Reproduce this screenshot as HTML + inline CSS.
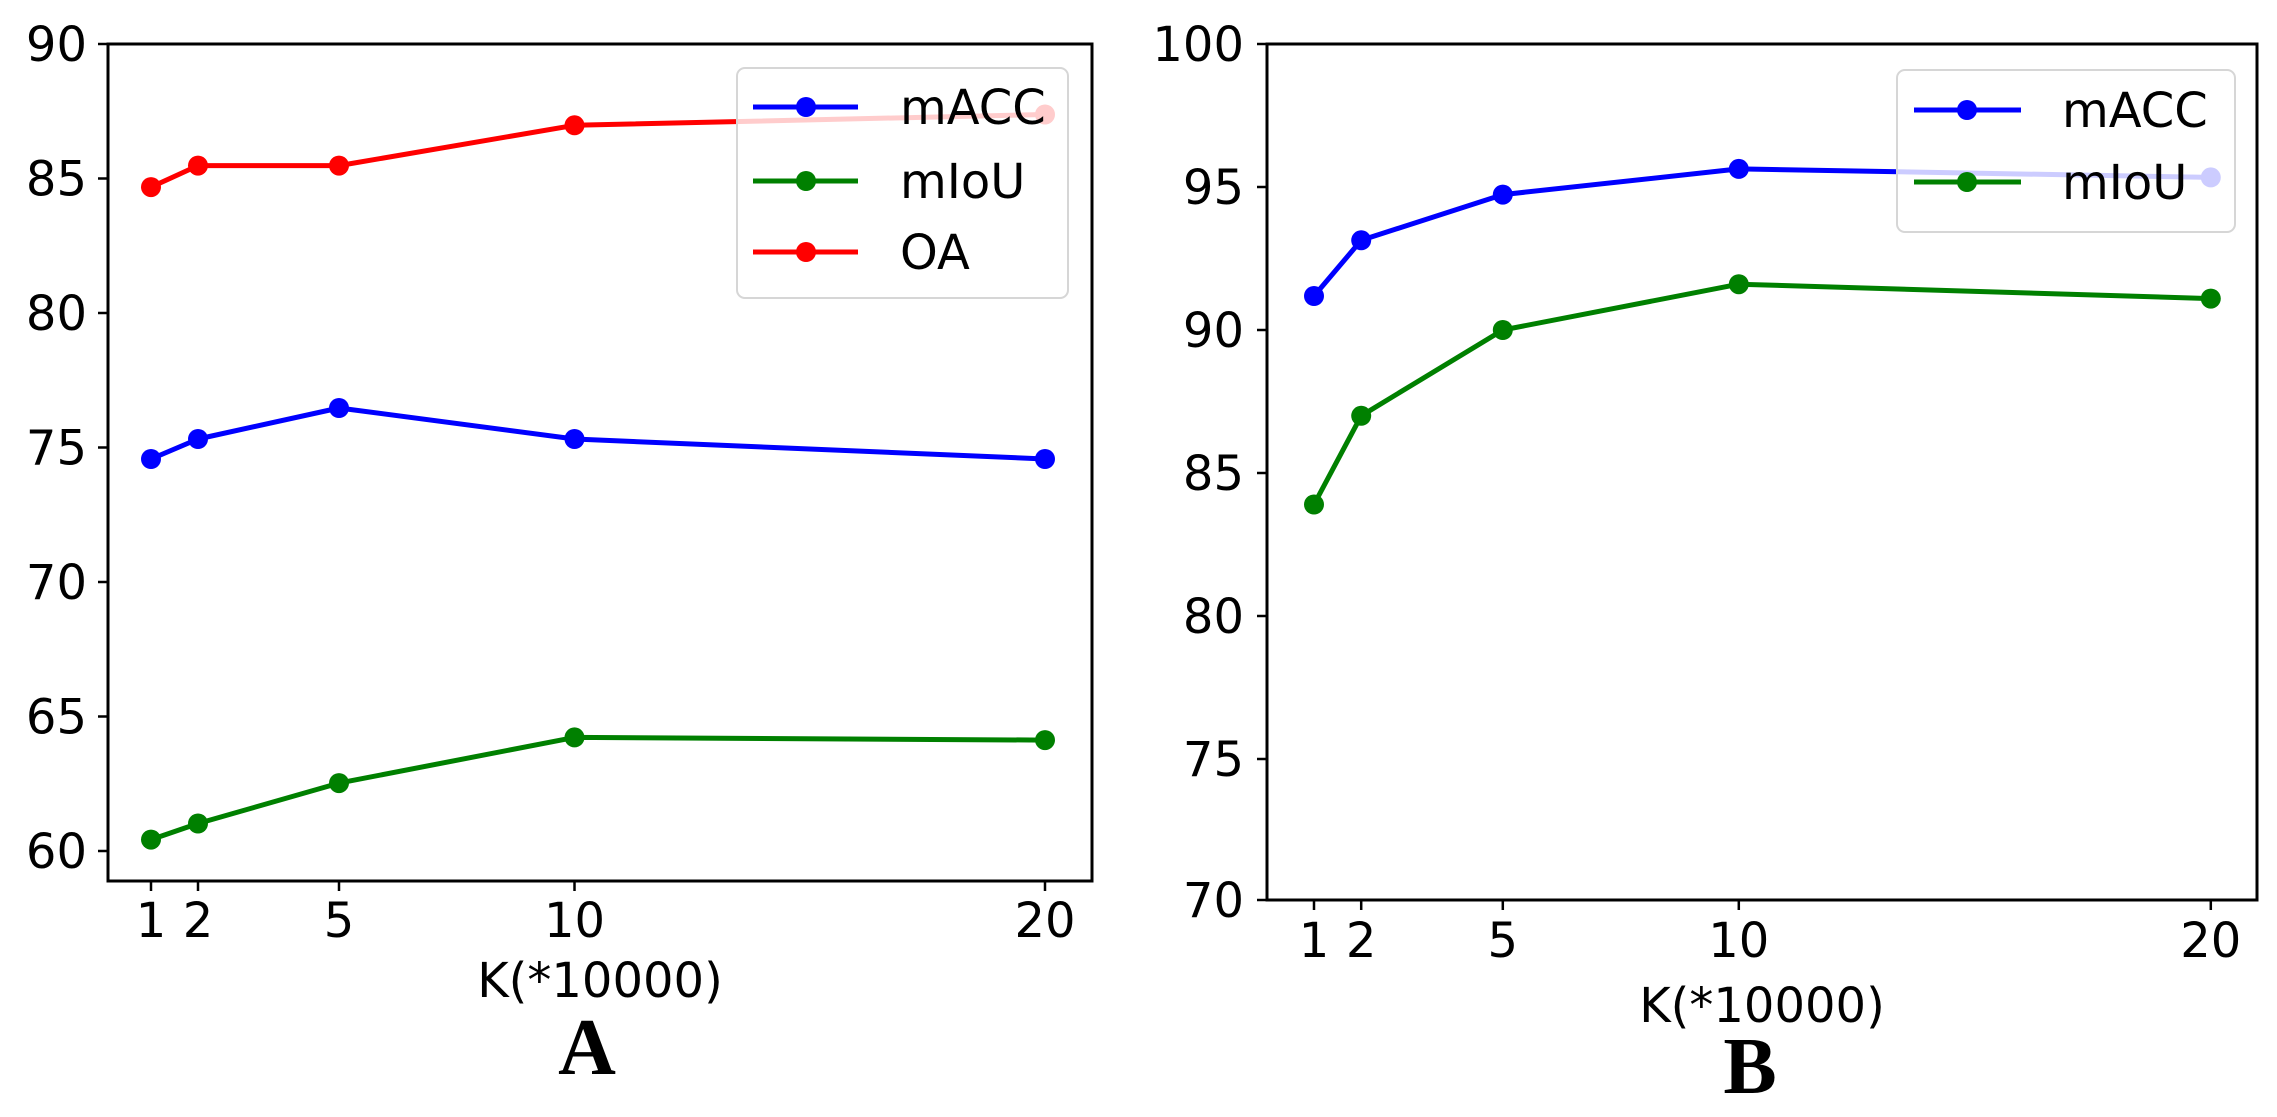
<!DOCTYPE html>
<html><head><meta charset="utf-8"><style>html,body{margin:0;padding:0;background:#fff}svg{display:block}</style></head>
<body>
<svg width="2277" height="1117" viewBox="0 0 2277 1117" xmlns="http://www.w3.org/2000/svg" font-family="DejaVu Sans, Liberation Sans, sans-serif">
<rect width="2277" height="1117" fill="#fff"/>
<!-- LEFT PLOT -->
<g stroke-linejoin="round" stroke-linecap="round">
<polyline fill="none" stroke="#ff0000" stroke-width="5" points="151,187.1 198,165.6 339,165.6 574.5,125.3 1045,114.5"/>
<g fill="#ff0000"><circle cx="151" cy="187.1" r="10"/><circle cx="198" cy="165.6" r="10"/><circle cx="339" cy="165.6" r="10"/><circle cx="574.5" cy="125.3" r="10"/><circle cx="1045" cy="114.5" r="10"/></g>
<polyline fill="none" stroke="#0000ff" stroke-width="5" points="151,459 198,439 339,408 574.5,439 1045,459"/>
<g fill="#0000ff"><circle cx="151" cy="459" r="10"/><circle cx="198" cy="439" r="10"/><circle cx="339" cy="408" r="10"/><circle cx="574.5" cy="439" r="10"/><circle cx="1045" cy="459" r="10"/></g>
<polyline fill="none" stroke="#008000" stroke-width="5" points="151,839.6 198,823.5 339,783.1 574.5,737.4 1045,740.1"/>
<g fill="#008000"><circle cx="151" cy="839.6" r="10"/><circle cx="198" cy="823.5" r="10"/><circle cx="339" cy="783.1" r="10"/><circle cx="574.5" cy="737.4" r="10"/><circle cx="1045" cy="740.1" r="10"/></g>
</g>
<rect x="737" y="68" width="331" height="230" rx="8" fill="#fff" fill-opacity="0.8" stroke="#d6d6d6" stroke-width="2"/>
<line x1="753" y1="107" x2="858" y2="107" stroke="#0000ff" stroke-width="5"/><circle cx="806" cy="107" r="10" fill="#0000ff"/>
<line x1="753" y1="181" x2="858" y2="181" stroke="#008000" stroke-width="5"/><circle cx="806" cy="181" r="10" fill="#008000"/>
<line x1="753" y1="252" x2="858" y2="252" stroke="#ff0000" stroke-width="5"/><circle cx="806" cy="252" r="10" fill="#ff0000"/>
<g font-size="48" fill="#000">
<text x="900" y="124">mACC</text><text x="900" y="198">mIoU</text><text x="900" y="269">OA</text>
</g>
<rect x="108" y="44" width="984" height="837" fill="none" stroke="#000" stroke-width="3"/>
<g stroke="#000" stroke-width="2.5">
<line x1="98" y1="44" x2="108" y2="44"/><line x1="98" y1="178.5" x2="108" y2="178.5"/><line x1="98" y1="313" x2="108" y2="313"/><line x1="98" y1="447.5" x2="108" y2="447.5"/><line x1="98" y1="582" x2="108" y2="582"/><line x1="98" y1="716.5" x2="108" y2="716.5"/><line x1="98" y1="851" x2="108" y2="851"/>
<line x1="151" y1="881" x2="151" y2="891"/><line x1="198" y1="881" x2="198" y2="891"/><line x1="339" y1="881" x2="339" y2="891"/><line x1="574.5" y1="881" x2="574.5" y2="891"/><line x1="1045" y1="881" x2="1045" y2="891"/>
</g>
<g font-size="48" fill="#000" text-anchor="end">
<text x="87" y="61">90</text><text x="87" y="195.5">85</text><text x="87" y="330">80</text><text x="87" y="464.5">75</text><text x="87" y="599">70</text><text x="87" y="733.5">65</text><text x="87" y="868">60</text>
</g>
<g font-size="48" fill="#000" text-anchor="middle">
<text x="151" y="937">1</text><text x="198" y="937">2</text><text x="339" y="937">5</text><text x="574.5" y="937">10</text><text x="1045" y="937">20</text>
<text x="600" y="997">K(*10000)</text>
</g>
<text x="587" y="1074" font-family="Liberation Serif, serif" font-weight="bold" font-size="80" text-anchor="middle">A</text>

<!-- RIGHT PLOT -->
<g stroke-linejoin="round" stroke-linecap="round">
<polyline fill="none" stroke="#0000ff" stroke-width="5" points="1314,296 1361.2,240.3 1502.8,194.6 1738.8,168.9 2210.8,177.4"/>
<g fill="#0000ff"><circle cx="1314" cy="296" r="10"/><circle cx="1361.2" cy="240.3" r="10"/><circle cx="1502.8" cy="194.6" r="10"/><circle cx="1738.8" cy="168.9" r="10"/><circle cx="2210.8" cy="177.4" r="10"/></g>
<polyline fill="none" stroke="#008000" stroke-width="5" points="1314,504.5 1361.2,415.8 1502.8,330 1738.8,284.2 2210.8,298.6"/>
<g fill="#008000"><circle cx="1314" cy="504.5" r="10"/><circle cx="1361.2" cy="415.8" r="10"/><circle cx="1502.8" cy="330" r="10"/><circle cx="1738.8" cy="284.2" r="10"/><circle cx="2210.8" cy="298.6" r="10"/></g>
</g>
<rect x="1897" y="70" width="338" height="162" rx="8" fill="#fff" fill-opacity="0.8" stroke="#d6d6d6" stroke-width="2"/>
<line x1="1914" y1="110" x2="2021" y2="110" stroke="#0000ff" stroke-width="5"/><circle cx="1967" cy="110" r="10" fill="#0000ff"/>
<line x1="1914" y1="182" x2="2021" y2="182" stroke="#008000" stroke-width="5"/><circle cx="1967" cy="182" r="10" fill="#008000"/>
<g font-size="48" fill="#000">
<text x="2062" y="127">mACC</text><text x="2062" y="199">mIoU</text>
</g>
<rect x="1267" y="44" width="990" height="856" fill="none" stroke="#000" stroke-width="3"/>
<g stroke="#000" stroke-width="2.5">
<line x1="1257" y1="44" x2="1267" y2="44"/><line x1="1257" y1="187" x2="1267" y2="187"/><line x1="1257" y1="330" x2="1267" y2="330"/><line x1="1257" y1="473" x2="1267" y2="473"/><line x1="1257" y1="616" x2="1267" y2="616"/><line x1="1257" y1="759" x2="1267" y2="759"/><line x1="1257" y1="900" x2="1267" y2="900"/>
<line x1="1314" y1="900" x2="1314" y2="910"/><line x1="1361.2" y1="900" x2="1361.2" y2="910"/><line x1="1502.8" y1="900" x2="1502.8" y2="910"/><line x1="1738.8" y1="900" x2="1738.8" y2="910"/><line x1="2210.8" y1="900" x2="2210.8" y2="910"/>
</g>
<g font-size="48" fill="#000" text-anchor="end">
<text x="1244" y="61">100</text><text x="1244" y="204">95</text><text x="1244" y="347">90</text><text x="1244" y="490">85</text><text x="1244" y="633">80</text><text x="1244" y="776">75</text><text x="1244" y="917">70</text>
</g>
<g font-size="48" fill="#000" text-anchor="middle">
<text x="1314" y="957">1</text><text x="1361.2" y="957">2</text><text x="1502.8" y="957">5</text><text x="1738.8" y="957">10</text><text x="2210.8" y="957">20</text>
<text x="1762" y="1022">K(*10000)</text>
</g>
<text x="1750" y="1093" font-family="Liberation Serif, serif" font-weight="bold" font-size="80" text-anchor="middle">B</text>
</svg>
</body></html>
